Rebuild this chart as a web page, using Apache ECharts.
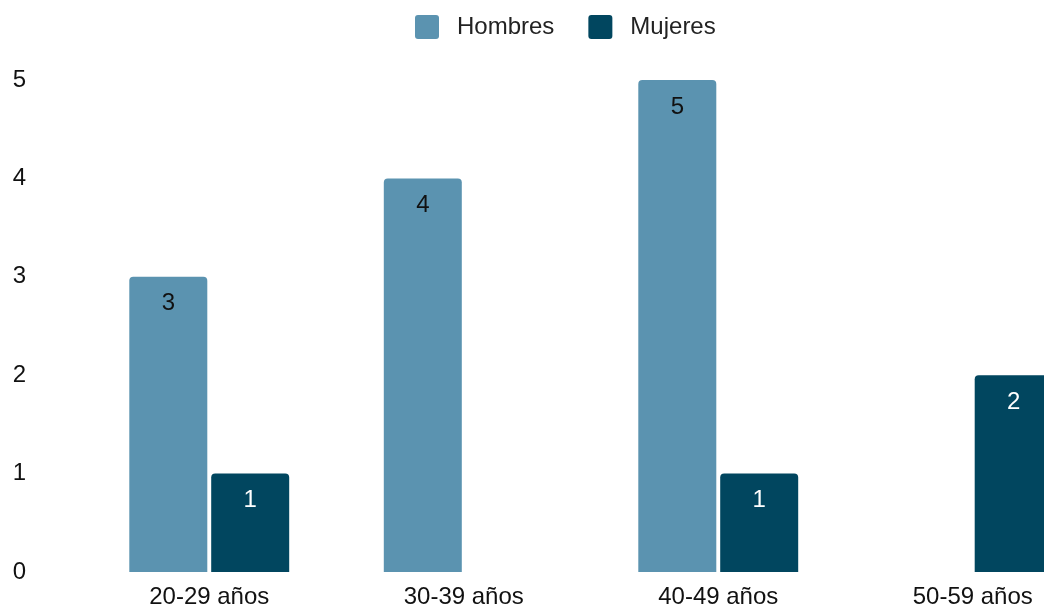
<!DOCTYPE html>
<html>
<head>
<meta charset="utf-8">
<script src="https://cdn.jsdelivr.net/npm/echarts@6/dist/echarts.min.js"></script>
<style>
  html, body { margin: 0; padding: 0; background: #ffffff; overflow: hidden; }
  /* the plot runs past the right edge of the window, so the last bar is cut */
  #chart { width: 1100px; height: 609px; }
</style>
</head>
<body>
<div id="chart"></div>
<script>
// Age groups and head counts per gender
const categories = ['20-29 años', '30-39 años', '40-49 años', '50-59 años'];
const hombres = [3, 4, 5, 0];
const mujeres = [1, 0, 1, 2];
const yTicks = { min: 0, max: 5, interval: 1 };

const FONT = '"Liberation Sans", Arial, sans-serif';
const chart = echarts.init(document.getElementById('chart'), null, { renderer: 'canvas' });

const hideZero = p => (p.value === 0 ? '' : String(p.value));

chart.setOption({
  animation: false,
  backgroundColor: '#ffffff',
  textStyle: { fontFamily: FONT },
  legend: {
    left: 410,
    top: 10,
    itemWidth: 24,
    itemHeight: 24,
    itemGap: 34,
    icon: 'path://M3,0 H21 Q24,0 24,3 V21 Q24,24 21,24 H3 Q0,24 0,21 V3 Q0,0 3,0 Z',
    textStyle: { fontFamily: FONT, fontSize: 24, color: '#222222', padding: [0, 0, 0, 13] },
    data: ['Hombres', 'Mujeres']
  },
  grid: { left: 82, top: 80, right: 0, bottom: 37, containLabel: false },
  xAxis: {
    type: 'category',
    data: categories,
    axisLine: { show: false },
    axisTick: { show: false },
    axisLabel: { fontFamily: FONT, fontSize: 24, color: '#111111', margin: 13 }
  },
  yAxis: {
    type: 'value',
    min: yTicks.min,
    max: yTicks.max,
    interval: yTicks.interval,
    splitLine: { show: false },
    axisLine: { show: false },
    axisTick: { show: false },
    axisLabel: { fontFamily: FONT, fontSize: 24, color: '#111111', margin: 56 }
  },
  series: [
    {
      name: 'Hombres',
      type: 'bar',
      data: hombres,
      barWidth: 78,
      barGap: '5%',
      itemStyle: { color: '#5b93b0', borderRadius: [4, 4, 0, 0] },
      label: {
        show: true, position: 'insideTop', distance: 15,
        fontFamily: FONT, fontSize: 24, color: '#111111', formatter: hideZero
      }
    },
    {
      name: 'Mujeres',
      type: 'bar',
      data: mujeres,
      barWidth: 78,
      barGap: '5%',
      itemStyle: { color: '#01465f', borderRadius: [4, 4, 0, 0] },
      label: {
        show: true, position: 'insideTop', distance: 15,
        fontFamily: FONT, fontSize: 24, color: '#ffffff', formatter: hideZero
      }
    }
  ]
});
</script>
</body>
</html>
